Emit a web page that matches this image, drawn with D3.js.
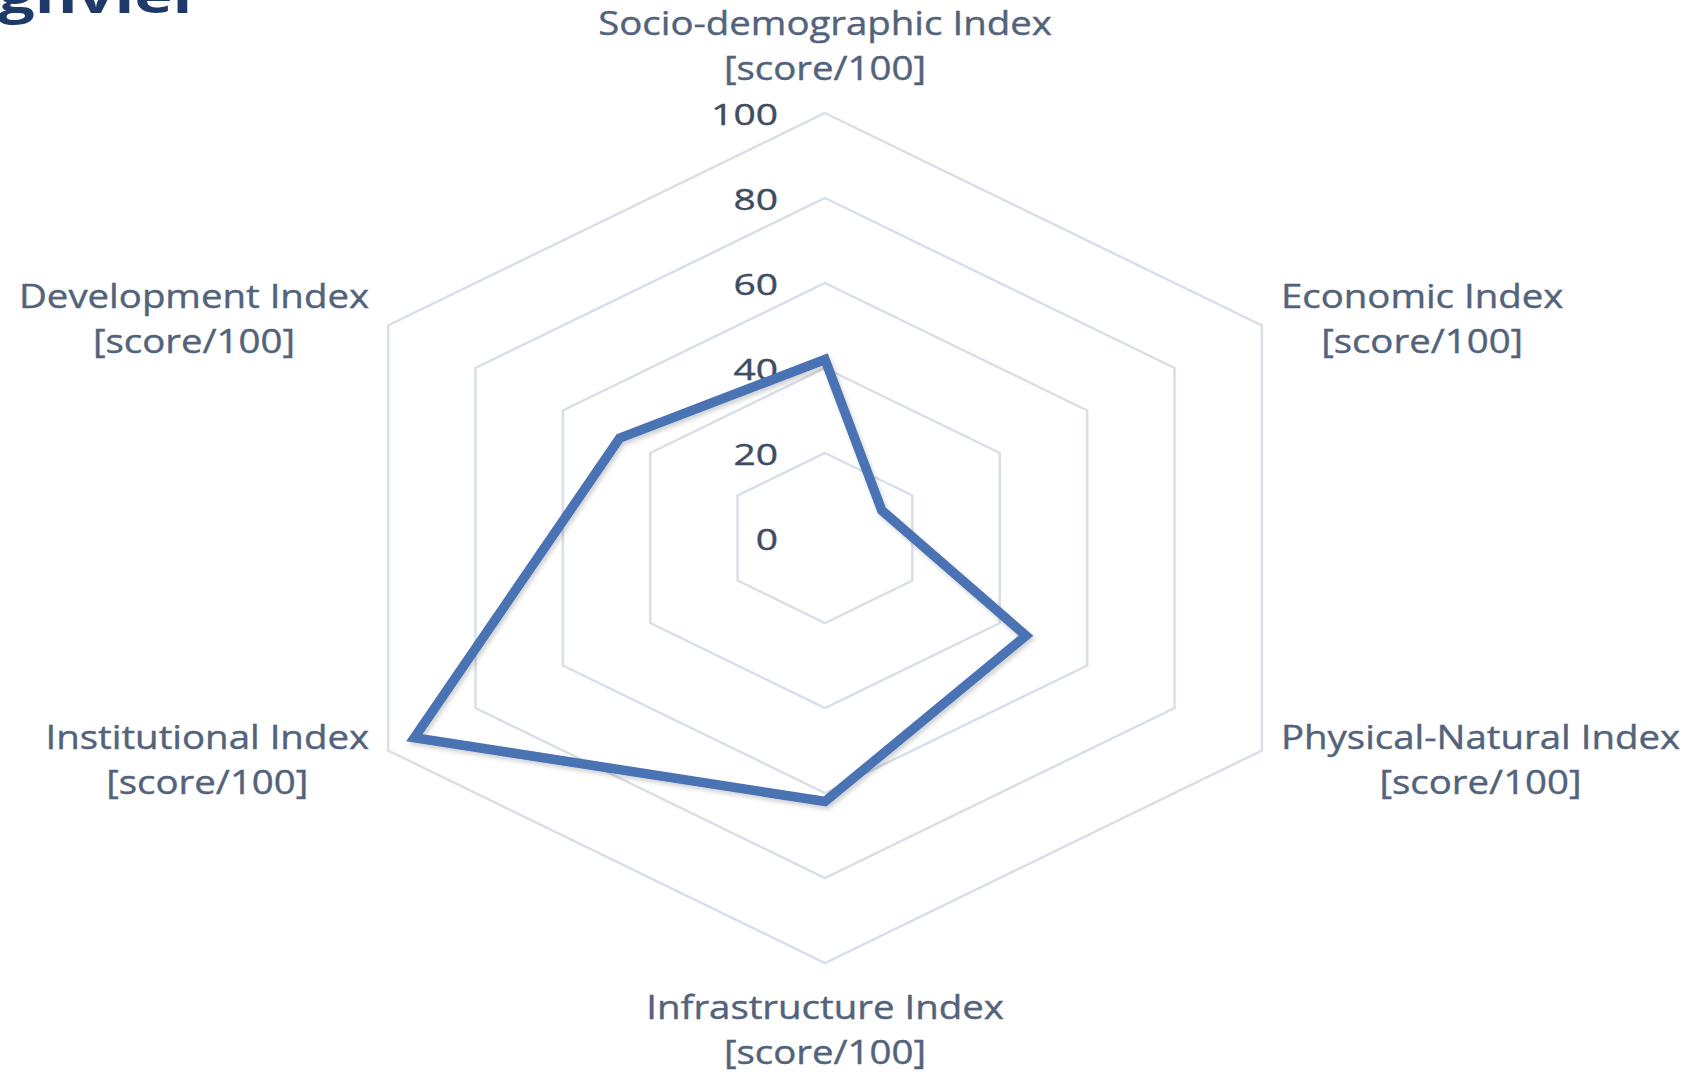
<!DOCTYPE html>
<html>
<head>
<meta charset="utf-8">
<title>radar</title>
<script src="https://cdn.jsdelivr.net/npm/d3@7"></script>
<style>
  body { margin:0; background:#fff; }
  svg { display:block; font-family:"Open Sans", sans-serif; }
  .grid { fill:none; stroke:#d9dfe8; stroke-width:2.5; }
  .tick { fill:#3e4d61; font-size:30px; stroke:#3e4d61; stroke-width:0.4; }
  .lab { fill:#52637b; font-size:32px; stroke:#52637b; stroke-width:0.4; }
  .title { fill:#1f3a68; font-size:50px; font-weight:bold; }
</style>
</head>
<body>
<svg id="chart" width="1695" height="1072"></svg>
<script>
// axes, clockwise from top
var axes = ['Socio-demographic Index', 'Economic Index', 'Physical-Natural Index',
            'Infrastructure Index', 'Institutional Index', 'Development Index'];
var unit = '[score/100]';
var scores = [42, 13, 46, 62, 94, 47];
var ticks = [0, 20, 40, 60, 80, 100];
var rings = [20, 40, 60, 80, 100];

var W = 1695, H = 1072, cx = 825, cy = 538, kx = 1.187; // picture is stretched sideways
var sx = 1.2; // same stretch on the text
var svg = d3.select('#chart');
var r = d3.scaleLinear().domain([0, 100]).range([0, 425]);
var ang = d3.scaleLinear().domain([0, axes.length]).range([0, 2 * Math.PI]);
var px = (i, v) => cx + r(v) * Math.sin(ang(i)) * kx;
var py = (i, v) => cy - r(v) * Math.cos(ang(i));
var poly = d3.line().x(d => px(d.i, d.v)).y(d => py(d.i, d.v)).curve(d3.curveLinearClosed);
var place = (x, y, s) => 'translate(' + x + ',' + y + ') scale(' + s + ',1)';

// cut-off slide title at the top
svg.append('text').attr('class', 'title').attr('transform', place(-2, 13, 1.3)).text('gnvier');

var defs = svg.append('defs');
var f = defs.append('filter').attr('id', 'sh').attr('x', '-10%').attr('y', '-10%')
  .attr('width', '120%').attr('height', '120%');
f.append('feDropShadow').attr('dx', 2).attr('dy', 3).attr('stdDeviation', 2)
  .attr('flood-color', '#000').attr('flood-opacity', 0.18);

svg.append('g').selectAll('path').data(rings).enter().append('path')
  .attr('class', 'grid')
  .attr('d', v => poly(axes.map((a, i) => ({i: i, v: v}))));

svg.append('g').selectAll('text').data(ticks).enter().append('text')
  .attr('class', 'tick').attr('text-anchor', 'end').attr('dominant-baseline', 'central')
  .attr('transform', v => place(cx - 47, cy - r(v), 1.3)).text(d => d);

svg.append('path').attr('filter', 'url(#sh)')
  .attr('d', poly(scores.map((v, i) => ({i: i, v: v}))))
  .attr('fill', 'none').attr('stroke', '#4873b3').attr('stroke-width', 9.5)
  .attr('stroke-linejoin', 'miter').attr('stroke-miterlimit', 6);

// axis labels: two centred lines, block placed outside each vertex
var lh = 45, gap = 19;
axes.forEach(function (name, i) {
  var g = svg.append('g').attr('class', 'lab');
  var t1 = g.append('text').attr('text-anchor', 'middle').attr('dominant-baseline', 'central').text(name);
  var t2 = g.append('text').attr('text-anchor', 'middle').attr('dominant-baseline', 'central').text(unit);
  var bw = sx * Math.max(t1.node().getComputedTextLength(), t2.node().getComputedTextLength());
  var vx = px(i, 100), vy = py(i, 100), x, y;
  var s = Math.sin(ang(i));
  if (Math.abs(s) < 0.01) {
    x = cx;
    y = i === 0 ? 22 : vy + 43;
  } else {
    x = s > 0 ? vx + gap + bw / 2 : vx - gap - bw / 2;
    y = vy - lh / 2 + (Math.cos(ang(i)) > 0 ? -8 : 8);
  }
  t1.attr('transform', place(x, y, sx));
  t2.attr('transform', place(x, y + lh, sx));
});
</script>
</body>
</html>
